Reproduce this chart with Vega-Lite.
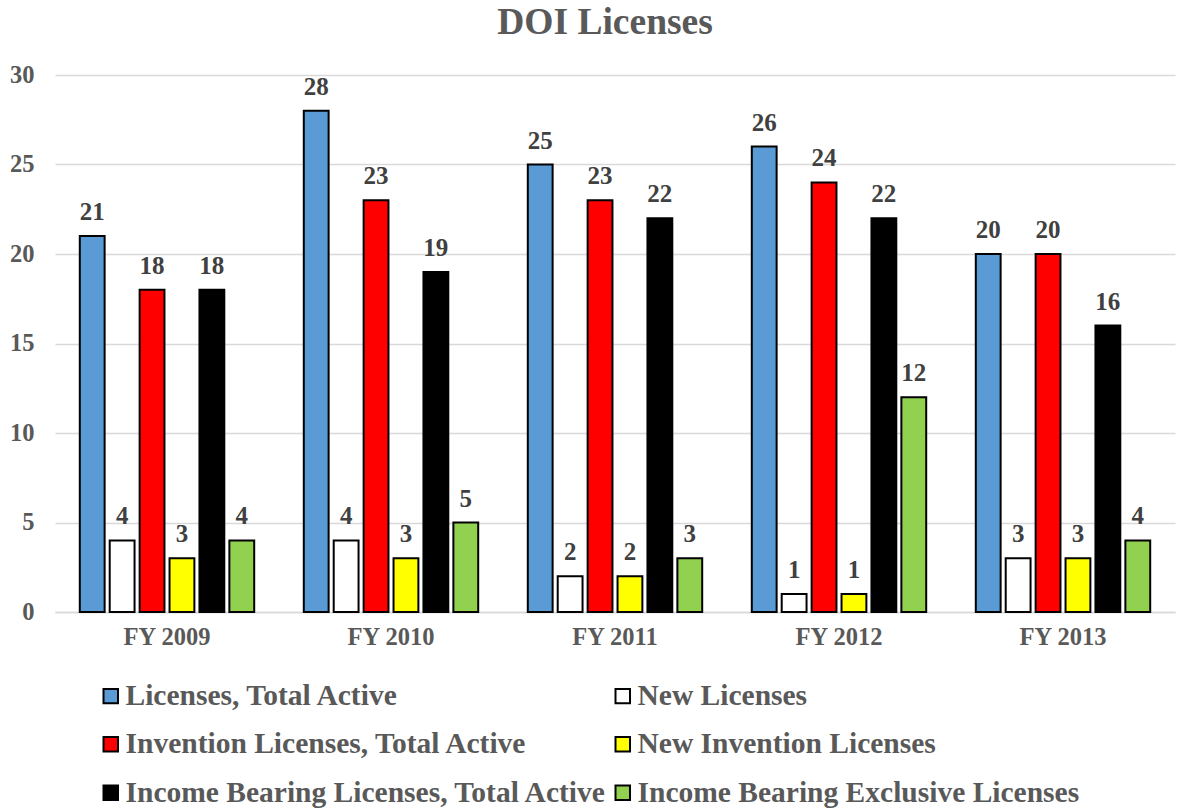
{
  "$schema": "https://vega.github.io/schema/vega-lite/v6.json",
  "width": 1120,
  "height": 537,
  "autosize": {"type": "none"},
  "padding": {"left": 55, "top": 75, "right": 5, "bottom": 196},
  "background": "white",
  "title": {
    "text": "DOI Licenses",
    "font": "'Liberation Serif', 'Times New Roman', serif",
    "fontSize": 37.5,
    "fontWeight": "bold",
    "color": "#595959",
    "anchor": "middle",
    "offset": 21,
    "dx": -10
  },
  "config": {
    "view": {"stroke": null},
    "font": "'Liberation Serif', 'Times New Roman', serif"
  },
  "data": {
    "values": [
      {"year": "FY 2009", "series": "Licenses, Total Active", "order": 1, "value": 21},
      {"year": "FY 2009", "series": "New Licenses", "order": 2, "value": 4},
      {"year": "FY 2009", "series": "Invention Licenses, Total Active", "order": 3, "value": 18},
      {"year": "FY 2009", "series": "New Invention Licenses", "order": 4, "value": 3},
      {"year": "FY 2009", "series": "Income Bearing Licenses, Total Active", "order": 5, "value": 18},
      {"year": "FY 2009", "series": "Income Bearing Exclusive Licenses", "order": 6, "value": 4},
      {"year": "FY 2010", "series": "Licenses, Total Active", "order": 1, "value": 28},
      {"year": "FY 2010", "series": "New Licenses", "order": 2, "value": 4},
      {"year": "FY 2010", "series": "Invention Licenses, Total Active", "order": 3, "value": 23},
      {"year": "FY 2010", "series": "New Invention Licenses", "order": 4, "value": 3},
      {"year": "FY 2010", "series": "Income Bearing Licenses, Total Active", "order": 5, "value": 19},
      {"year": "FY 2010", "series": "Income Bearing Exclusive Licenses", "order": 6, "value": 5},
      {"year": "FY 2011", "series": "Licenses, Total Active", "order": 1, "value": 25},
      {"year": "FY 2011", "series": "New Licenses", "order": 2, "value": 2},
      {"year": "FY 2011", "series": "Invention Licenses, Total Active", "order": 3, "value": 23},
      {"year": "FY 2011", "series": "New Invention Licenses", "order": 4, "value": 2},
      {"year": "FY 2011", "series": "Income Bearing Licenses, Total Active", "order": 5, "value": 22},
      {"year": "FY 2011", "series": "Income Bearing Exclusive Licenses", "order": 6, "value": 3},
      {"year": "FY 2012", "series": "Licenses, Total Active", "order": 1, "value": 26},
      {"year": "FY 2012", "series": "New Licenses", "order": 2, "value": 1},
      {"year": "FY 2012", "series": "Invention Licenses, Total Active", "order": 3, "value": 24},
      {"year": "FY 2012", "series": "New Invention Licenses", "order": 4, "value": 1},
      {"year": "FY 2012", "series": "Income Bearing Licenses, Total Active", "order": 5, "value": 22},
      {"year": "FY 2012", "series": "Income Bearing Exclusive Licenses", "order": 6, "value": 12},
      {"year": "FY 2013", "series": "Licenses, Total Active", "order": 1, "value": 20},
      {"year": "FY 2013", "series": "New Licenses", "order": 2, "value": 3},
      {"year": "FY 2013", "series": "Invention Licenses, Total Active", "order": 3, "value": 20},
      {"year": "FY 2013", "series": "New Invention Licenses", "order": 4, "value": 3},
      {"year": "FY 2013", "series": "Income Bearing Licenses, Total Active", "order": 5, "value": 16},
      {"year": "FY 2013", "series": "Income Bearing Exclusive Licenses", "order": 6, "value": 4}
    ]
  },
  "encoding": {
    "x": {
      "field": "year",
      "type": "nominal",
      "scale": {"paddingInner": 0.2, "paddingOuter": 0.1},
      "axis": {
        "title": null,
        "labelAngle": 0,
        "labelFont": "'Liberation Serif', 'Times New Roman', serif",
        "labelFontSize": 24.5,
        "labelFontWeight": "bold",
        "labelColor": "#595959",
        "labelPadding": 13,
        "ticks": false,
        "domainColor": "#d9d9d9",
        "domainWidth": 1.5
      }
    },
    "xOffset": {
      "field": "series",
      "type": "nominal",
      "sort": {"field": "order"},
      "scale": {"paddingInner": 0.17, "paddingOuter": 0.08}
    },
    "y": {
      "field": "value",
      "type": "quantitative",
      "scale": {"domain": [0, 30]},
      "axis": {
        "title": null,
        "values": [0, 5, 10, 15, 20, 25, 30],
        "labelFont": "'Liberation Serif', 'Times New Roman', serif",
        "labelFontSize": 24.5,
        "labelFontWeight": "bold",
        "labelColor": "#595959",
        "labelPadding": 21,
        "ticks": false,
        "domain": false,
        "gridColor": "#d9d9d9",
        "gridWidth": 1.5
      }
    }
  },
  "layer": [
    {
      "mark": {"type": "bar", "stroke": "black", "strokeWidth": 2},
      "encoding": {
        "color": {
          "field": "series",
          "type": "nominal",
          "scale": {
            "domain": [
              "Licenses, Total Active",
              "Invention Licenses, Total Active",
              "Income Bearing Licenses, Total Active",
              "New Licenses",
              "New Invention Licenses",
              "Income Bearing Exclusive Licenses"
            ],
            "range": ["#5b9bd5", "#ff0000", "#000000", "#ffffff", "#ffff00", "#92d050"]
          },
          "legend": {
            "title": null,
            "orient": "none",
            "legendX": 41,
            "legendY": 606,
            "columns": 2,
            "columnPadding": -3,
            "rowPadding": 17.5,
            "symbolType": "square",
            "symbolSize": 210,
            "symbolStrokeColor": "black",
            "symbolStrokeWidth": 2,
            "labelFont": "'Liberation Serif', 'Times New Roman', serif",
            "labelFontSize": 29.5,
            "labelFontWeight": "bold",
            "labelColor": "#595959",
            "labelOffset": 0,
            "labelLimit": 800
          }
        }
      }
    },
    {
      "mark": {
        "type": "text",
        "dy": -16,
        "baseline": "alphabetic",
        "font": "'Liberation Serif', 'Times New Roman', serif",
        "fontSize": 25,
        "fontWeight": "bold",
        "color": "#404040"
      },
      "encoding": {
        "text": {"field": "value", "type": "quantitative"}
      }
    }
  ]
}
